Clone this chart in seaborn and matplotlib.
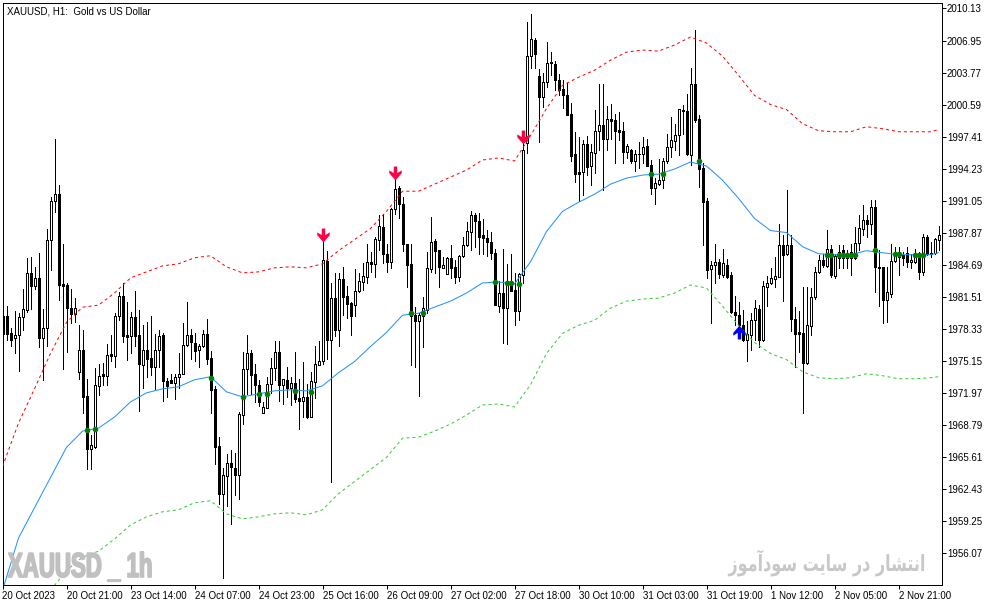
import numpy as np
import seaborn as sns
import matplotlib
matplotlib.use("Agg")
import matplotlib.pyplot as plt
from matplotlib.path import Path
from matplotlib.patheffects import AbstractPathEffect
from matplotlib.transforms import Affine2D

# H1 candles, one value per bar
opens = [
    1979.6, 1979.6, 1977.9, 1977.4, 1977.7, 1979.5, 1980.2, 1983.9, 1982.6, 1983.4,
    1977.4, 1978.4, 1987.2, 1991.0, 1991.7, 1982.8, 1982.7, 1980.4, 1979.8, 1974.1,
    1976.3, 1971.7, 1966.4, 1966.6, 1972.7, 1973.9, 1973.7, 1975.9, 1975.7, 1979.6,
    1981.6, 1977.7, 1977.6, 1979.5, 1977.7, 1974.8, 1976.3, 1975.5, 1974.6, 1976.3,
    1977.7, 1973.2, 1973.3, 1973.0, 1973.6, 1973.9, 1976.7, 1977.7, 1976.9, 1976.3,
    1976.6, 1977.8, 1975.5, 1972.4, 1966.7, 1962.0, 1963.8, 1965.0, 1964.5, 1963.9,
    1969.8, 1974.4, 1976.0, 1973.9, 1972.8, 1970.0, 1970.5, 1972.9, 1974.5, 1976.1,
    1972.8, 1973.3, 1972.5, 1973.0, 1971.5, 1971.2, 1971.6, 1969.6, 1973.1, 1974.8,
    1975.2, 1985.1, 1977.2, 1981.4, 1978.2, 1983.3, 1981.6, 1980.9, 1980.7, 1982.1,
    1983.0, 1983.5, 1985.0, 1984.8, 1987.2, 1988.5, 1985.8, 1985.0, 1990.2, 1992.3,
    1990.7, 1986.8, 1984.8, 1979.7, 1979.1, 1979.6, 1980.2, 1984.3, 1987.1, 1986.2,
    1984.4, 1983.8, 1985.4, 1984.5, 1983.5, 1985.6, 1986.7, 1988.0, 1989.6, 1989.0,
    1987.7, 1987.4, 1987.0, 1985.9, 1980.6, 1981.9, 1980.4, 1983.0, 1982.2, 1980.1,
    1983.7, 1996.8, 2005.4, 2007.0, 2003.4, 2001.3, 2002.8, 2004.8, 2004.6, 2003.0,
    2002.1, 2001.5, 1999.7, 1995.7, 1993.9, 1993.9, 1996.7, 1994.5, 1995.8, 1998.0,
    1998.6, 1997.2, 1999.2, 1999.1, 1998.1, 1998.0, 1995.9, 1996.1, 1995.0, 1995.7,
    1995.7, 1996.5, 1994.6, 1992.3, 1992.7, 1993.1, 1995.0, 1996.4, 1997.0, 1997.6,
    2000.1, 2000.0, 1995.6, 2002.6, 1999.2, 1994.3, 1991.0, 1984.3, 1984.7, 1985.0,
    1983.7, 1984.7, 1983.7, 1980.0, 1979.7, 1978.7, 1977.2, 1977.7, 1979.2, 1980.3,
    1977.2, 1982.5, 1982.9, 1983.3, 1983.5, 1986.7, 1985.8, 1986.7, 1979.3, 1978.0,
    1977.9, 1975.0, 1978.6, 1981.5, 1984.0, 1985.2, 1984.6, 1986.3, 1983.6, 1986.0,
    1986.2, 1985.4, 1986.0, 1985.4, 1986.9, 1988.3, 1989.1, 1988.7, 1990.4, 1984.5,
    1984.5, 1981.2, 1981.8, 1985.1, 1986.0, 1985.7, 1985.9, 1985.0, 1985.0, 1985.7,
    1984.0, 1987.5, 1985.9, 1985.9, 1987.2,
]
highs = [
    1980.2, 1980.6, 1978.4, 1980.1, 1979.9, 1982.3, 1985.4, 1985.5, 1984.5, 1985.9,
    1980.3, 1988.3, 1991.4, 1997.2, 1992.6, 1986.8, 1982.9, 1982.3, 1981.4, 1978.7,
    1978.2, 1973.4, 1967.8, 1974.5, 1974.9, 1975.0, 1976.8, 1977.7, 1979.9, 1982.0,
    1982.9, 1981.0, 1980.0, 1982.1, 1980.2, 1978.7, 1979.0, 1979.6, 1977.8, 1978.2,
    1977.9, 1973.5, 1973.9, 1973.9, 1976.0, 1978.9, 1981.0, 1978.3, 1977.9, 1976.8,
    1978.2, 1979.3, 1976.2, 1972.7, 1967.6, 1964.5, 1965.9, 1966.3, 1966.0, 1970.1,
    1976.1, 1977.7, 1976.3, 1974.9, 1973.3, 1971.1, 1973.6, 1975.5, 1977.1, 1977.1,
    1973.4, 1974.6, 1973.6, 1976.1, 1973.4, 1975.1, 1972.9, 1974.1, 1976.6, 1977.1,
    1987.2, 1986.1, 1982.9, 1983.9, 1983.9, 1984.5, 1982.6, 1981.0, 1984.3, 1983.9,
    1984.9, 1986.8, 1986.0, 1987.5, 1989.6, 1989.7, 1986.8, 1990.3, 1993.3, 1992.5,
    1991.4, 1986.8, 1986.8, 1980.5, 1979.9, 1981.5, 1986.0, 1989.4, 1987.3, 1986.2,
    1985.5, 1985.5, 1986.7, 1985.2, 1985.7, 1987.5, 1988.9, 1990.0, 1989.8, 1989.8,
    1989.2, 1988.2, 1988.0, 1986.3, 1983.1, 1986.3, 1984.8, 1985.8, 1983.9, 1983.9,
    1997.1, 2008.8, 2009.6, 2007.2, 2004.1, 2003.7, 2006.8, 2005.8, 2004.9, 2003.6,
    2003.0, 2002.7, 2000.8, 1997.9, 1997.4, 1997.1, 1997.5, 1996.7, 2000.1, 2002.6,
    2002.6, 2000.5, 2000.7, 1999.7, 1999.9, 1998.9, 1996.7, 1996.2, 1996.1, 1996.9,
    1997.4, 1997.2, 1995.1, 1993.3, 1995.2, 1995.3, 1997.7, 1999.4, 1998.7, 2000.2,
    2000.6, 2001.6, 2004.2, 2008.0, 1999.6, 1994.8, 1991.3, 1985.1, 1986.8, 1985.3,
    1986.3, 1985.3, 1984.0, 1981.6, 1981.0, 1980.2, 1979.1, 1979.9, 1981.2, 1980.7,
    1983.1, 1983.6, 1984.4, 1985.5, 1988.7, 1987.7, 1992.1, 1987.7, 1980.5, 1980.1,
    1982.5, 1982.5, 1982.4, 1984.5, 1985.7, 1985.8, 1988.2, 1986.7, 1985.8, 1986.7,
    1986.7, 1986.2, 1986.8, 1988.5, 1989.6, 1990.6, 1989.6, 1991.1, 1991.1, 1986.2,
    1984.5, 1984.5, 1986.8, 1986.5, 1986.5, 1986.0, 1986.5, 1985.8, 1986.3, 1986.0,
    1987.8, 1987.7, 1987.0, 1987.4, 1988.6,
]
lows = [
    1977.2, 1977.2, 1976.6, 1976.0, 1974.2, 1978.2, 1980.0, 1980.3, 1982.3, 1976.5,
    1973.3, 1976.6, 1984.2, 1989.9, 1981.2, 1974.4, 1976.1, 1978.9, 1979.0, 1973.4,
    1970.0, 1964.4, 1964.4, 1966.5, 1971.8, 1972.8, 1972.8, 1975.2, 1974.6, 1979.2,
    1977.0, 1975.3, 1976.0, 1976.6, 1970.2, 1972.5, 1973.6, 1973.8, 1972.4, 1974.6,
    1971.2, 1971.6, 1973.0, 1971.4, 1972.5, 1973.9, 1976.6, 1975.4, 1975.2, 1974.6,
    1976.5, 1974.9, 1970.0, 1964.9, 1961.0, 1953.6, 1960.8, 1959.0, 1961.9, 1961.5,
    1968.9, 1971.9, 1971.9, 1971.1, 1970.7, 1970.0, 1970.5, 1972.0, 1973.3, 1971.2,
    1970.9, 1971.6, 1970.8, 1971.1, 1968.4, 1969.6, 1969.5, 1969.6, 1971.5, 1974.9,
    1974.9, 1975.4, 1963.2, 1977.6, 1976.6, 1979.7, 1979.4, 1977.7, 1979.6, 1982.0,
    1982.2, 1982.9, 1984.0, 1983.5, 1986.2, 1984.9, 1984.0, 1984.4, 1989.7, 1989.3,
    1986.1, 1982.5, 1974.8, 1974.6, 1971.7, 1976.5, 1979.9, 1984.0, 1983.9, 1982.5,
    1984.4, 1983.8, 1983.4, 1982.9, 1983.1, 1985.5, 1986.6, 1986.2, 1986.5, 1985.8,
    1985.8, 1985.6, 1985.3, 1980.7, 1980.0, 1976.9, 1976.8, 1982.1, 1978.7, 1979.2,
    1982.9, 1995.8, 2004.2, 2004.2, 1996.9, 2000.4, 2002.3, 2003.5, 2002.0, 2001.5,
    2000.3, 1999.6, 1995.0, 1992.9, 1991.0, 1991.6, 1993.6, 1992.6, 1993.8, 1996.1,
    1992.1, 1996.1, 1997.2, 1994.8, 1997.1, 1994.8, 1995.3, 1994.8, 1994.0, 1994.3,
    1994.8, 1994.5, 1991.7, 1990.7, 1992.6, 1992.3, 1994.8, 1995.4, 1996.1, 1995.6,
    1997.7, 1995.6, 1994.6, 1998.9, 1992.4, 1986.7, 1983.4, 1978.9, 1982.9, 1983.4,
    1983.5, 1983.4, 1979.9, 1978.7, 1978.4, 1977.1, 1975.2, 1976.3, 1977.2, 1976.5,
    1977.1, 1980.6, 1982.8, 1982.5, 1983.5, 1981.1, 1985.7, 1978.1, 1974.6, 1976.1,
    1970.0, 1974.9, 1977.7, 1981.3, 1983.9, 1984.5, 1984.5, 1983.5, 1983.4, 1984.4,
    1984.4, 1984.4, 1983.7, 1985.3, 1986.2, 1987.7, 1987.5, 1987.8, 1982.0, 1980.6,
    1978.9, 1979.0, 1981.5, 1985.0, 1983.7, 1984.7, 1984.5, 1984.4, 1984.9, 1983.3,
    1983.7, 1985.7, 1985.5, 1985.8, 1986.2,
]
closes = [
    1977.8, 1977.8, 1977.2, 1977.7, 1979.5, 1980.3, 1983.9, 1982.6, 1983.4, 1977.4,
    1978.4, 1987.2, 1991.0, 1991.7, 1982.7, 1982.6, 1980.4, 1979.8, 1980.4, 1976.3,
    1971.6, 1966.4, 1966.8, 1972.8, 1973.7, 1973.7, 1975.8, 1975.7, 1979.6, 1981.6,
    1977.6, 1977.5, 1979.5, 1977.6, 1974.9, 1976.3, 1975.4, 1974.6, 1976.3, 1977.6,
    1973.2, 1972.7, 1973.0, 1973.6, 1973.9, 1976.7, 1977.7, 1977.0, 1976.2, 1976.6,
    1977.8, 1975.4, 1972.3, 1966.6, 1962.0, 1963.9, 1965.0, 1964.6, 1963.9, 1969.9,
    1974.4, 1976.0, 1973.8, 1972.8, 1971.1, 1970.6, 1972.9, 1974.5, 1976.1, 1972.8,
    1973.4, 1972.5, 1973.0, 1971.4, 1971.2, 1971.6, 1969.6, 1973.2, 1974.9, 1975.2,
    1985.2, 1977.2, 1981.4, 1978.2, 1983.3, 1981.5, 1980.8, 1979.6, 1982.1, 1983.1,
    1983.6, 1985.0, 1984.8, 1987.3, 1988.6, 1985.8, 1985.0, 1990.2, 1992.2, 1990.7,
    1986.8, 1984.7, 1979.6, 1979.1, 1979.7, 1980.4, 1984.4, 1987.0, 1986.1, 1984.5,
    1984.7, 1985.4, 1984.4, 1983.5, 1985.6, 1986.7, 1988.1, 1989.6, 1989.0, 1987.5,
    1987.4, 1987.0, 1985.9, 1980.7, 1981.9, 1980.4, 1983.0, 1982.1, 1980.1, 1983.8,
    1996.1, 2005.4, 2007.1, 2005.6, 2001.3, 2002.8, 2004.7, 2004.7, 2003.0, 2002.0,
    2001.5, 1999.6, 1995.5, 1993.7, 1993.7, 1996.7, 1994.4, 1995.9, 1998.0, 1998.6,
    1997.2, 1999.2, 1999.0, 1998.0, 1997.9, 1995.9, 1996.5, 1995.0, 1995.7, 1995.7,
    1996.4, 1994.5, 1992.3, 1992.8, 1993.1, 1995.0, 1996.4, 1997.1, 1997.6, 2000.2,
    2000.0, 1995.7, 2002.6, 1999.1, 1994.2, 1990.9, 1984.2, 1984.7, 1985.0, 1983.8,
    1984.9, 1983.5, 1980.0, 1979.7, 1978.7, 1977.2, 1977.8, 1979.2, 1980.4, 1977.2,
    1982.6, 1982.9, 1983.4, 1983.6, 1986.7, 1985.7, 1986.7, 1979.3, 1977.8, 1977.8,
    1975.0, 1978.7, 1981.5, 1984.0, 1985.2, 1984.7, 1986.3, 1983.7, 1985.6, 1985.4,
    1985.4, 1985.8, 1985.4, 1986.9, 1988.4, 1989.1, 1988.7, 1990.4, 1984.5, 1984.4,
    1981.2, 1982.0, 1985.1, 1986.0, 1985.5, 1985.4, 1985.0, 1985.2, 1985.8, 1984.0,
    1987.5, 1985.8, 1985.8, 1987.3, 1987.7,
]

# indicator lines, read every 4th bar and at the last bar
line_bars = list(range(0, 233, 4)) + [234]
middle_band = [
    1952.4, 1957.6, 1960.6, 1963.6, 1966.6, 1968.2, 1968.5, 1969.6, 1971.1, 1972.0,
    1972.4, 1972.6, 1973.3, 1973.6, 1972.1, 1971.6, 1971.9, 1972.2, 1972.3, 1972.2,
    1972.7, 1974.0, 1975.1, 1976.6, 1978.0, 1979.7, 1979.9, 1980.5, 1981.1, 1981.9,
    1982.9, 1983.0, 1982.8, 1985.0, 1988.0, 1990.0, 1990.9, 1991.7, 1992.7, 1993.3,
    1993.6, 1993.7, 1994.2, 1994.9, 1994.5, 1993.1, 1991.3, 1989.3, 1988.1, 1987.9,
    1986.5, 1985.8, 1985.7, 1985.7, 1986.1, 1985.9, 1985.7, 1985.7, 1985.7, 1985.9,
]
upper_band = [
    1964.7, 1969.0, 1972.4, 1975.9, 1979.0, 1980.5, 1980.7, 1981.9, 1983.4, 1984.0,
    1984.6, 1984.8, 1985.4, 1985.6, 1984.5, 1983.9, 1984.0, 1984.4, 1984.5, 1984.4,
    1984.8, 1986.1, 1987.2, 1988.3, 1990.0, 1992.0, 1992.0, 1992.7, 1993.4, 1994.1,
    1995.1, 1995.3, 1995.0, 1997.5, 2000.2, 2002.5, 2003.3, 2004.0, 2005.0, 2005.8,
    2006.0, 2005.9, 2006.5, 2007.3, 2006.7, 2005.4, 2003.5, 2001.5, 2000.6, 2000.1,
    1998.7, 1998.0, 1997.9, 1997.9, 1998.4, 1998.2, 1997.9, 1997.9, 1997.9, 1998.1,
]
# the lower band only enters the window at bar 12
lower_bars = line_bars[3:]
lower_band = [
    1952.4, 1954.4, 1955.7, 1956.3, 1957.5, 1958.9, 1959.7, 1960.2, 1960.4, 1961.1,
    1961.3, 1960.0, 1959.5, 1959.7, 1960.0, 1960.1, 1959.9, 1960.4, 1962.0, 1963.2,
    1964.4, 1965.6, 1967.5, 1967.6, 1968.2, 1968.9, 1969.8, 1970.8, 1970.9, 1970.6,
    1972.8, 1975.9, 1977.9, 1978.7, 1979.2, 1980.4, 1981.1, 1981.3, 1981.4, 1981.9,
    1982.7, 1982.4, 1980.6, 1978.7, 1977.0, 1975.9, 1975.3, 1974.1, 1973.5, 1973.4,
    1973.5, 1973.9, 1973.7, 1973.4, 1973.4, 1973.5, 1973.6,
]

# green dots on the middle line
dot_bars = [21, 23, 52, 60, 64, 66, 73, 77, 102, 105, 123, 126, 127, 129, 162, 165, 174,
            206, 207, 209, 210, 211, 212, 213, 218, 223, 224, 228, 229, 230]
dot_prices = [1968.3, 1968.4, 1973.5, 1971.6, 1971.9, 1971.9, 1972.2, 1972.1, 1979.9, 1979.9,
              1983.0, 1982.9, 1982.9, 1982.8, 1993.7, 1993.7, 1995.0,
              1985.7, 1985.7, 1985.7, 1985.7, 1985.7, 1985.7, 1985.7, 1986.2,
              1985.8, 1985.8, 1985.7, 1985.7, 1985.7]

# sell and buy arrows
sell_bars = [80, 98, 130]
sell_prices = [1987.7, 1993.8, 1997.4]
buy_bars = [184]
buy_prices = [1978.0]

tick_bars = list(range(0, 225, 16))
x_labels = ["20 Oct 2023", "20 Oct 21:00", "23 Oct 14:00", "24 Oct 07:00", "24 Oct 23:00",
            "25 Oct 16:00", "26 Oct 09:00", "27 Oct 02:00", "27 Oct 18:00", "30 Oct 10:00",
            "31 Oct 03:00", "31 Oct 19:00", "1 Nov 12:00", "2 Nov 05:00", "2 Nov 21:00"]
y_ticks = [2010.13, 2006.95, 2003.77, 2000.59, 1997.41, 1994.23, 1991.05, 1987.87, 1984.69,
           1981.51, 1978.33, 1975.15, 1971.97, 1968.79, 1965.61, 1962.43, 1959.25, 1956.07]


class Squeeze(AbstractPathEffect):
    """Narrows a text horizontally around one pixel column and thickens its strokes."""

    def __init__(self, x0, scale, stroke=0.0):
        super().__init__()
        self.x0 = x0
        self.scale = scale
        self.stroke = stroke

    def draw_path(self, renderer, gc, tpath, affine, rgbFace):
        squeezed = affine + Affine2D().translate(-self.x0, 0).scale(self.scale, 1).translate(self.x0, 0)
        gc0 = renderer.new_gc()
        gc0.copy_properties(gc)
        gc0.set_linewidth(self.stroke)
        renderer.draw_path(gc0, tpath, squeezed, rgbFace)
        gc0.restore()


sns.set_theme(style="white")
plt.rcParams["font.family"] = ["Liberation Sans", "DejaVu Sans"]

W, H = 994, 605
PX = 0.72  # one pixel in points at dpi 100
LABEL_SIZE = 7.0
fig = plt.figure(figsize=(W / 100, H / 100), dpi=100, facecolor="white")
ax = fig.add_axes([2.5 / W, (H - 584.5) / H, 939 / W, 582 / H])

bars = np.arange(len(opens))
o, h, l, c = map(np.array, (opens, highs, lows, closes))

# watermarks sit behind everything
mark = fig.text(8 / W, 1 - 577 / H, "XAUUSD _ 1h", color="#c0c0c0", fontsize=25, fontweight="bold",
                family="Liberation Sans", ha="left", va="baseline", zorder=0)
mark.set_path_effects([Squeeze(8, 0.64, stroke=1.2)])
# Persian text in shaped forms, reversed for left to right drawing
shaped = ("\ufe8d\ufee7\ufe98\ufeb8\ufe8e\ufead \ufea9\ufead \ufeb3\ufe8e\ufbfe\ufe96 "
          "\ufeb3\ufeee\ufea9\ufe81\ufee3\ufeee\ufeaf")
persian = fig.text(926 / W, 1 - 571 / H, shaped[::-1], color="#c8c8c8", fontsize=16, fontweight="bold",
                   family="DejaVu Sans", ha="right", va="baseline", zorder=0)
persian.set_path_effects([Squeeze(926, 0.72)])
ax.patch.set_alpha(0)

# candles
ax.vlines(bars, l, h, color="black", lw=PX, antialiased=False, zorder=2)
fills = ["white" if cl >= op else "black" for op, cl in zip(o, c)]
ax.bar(bars, np.abs(c - o), bottom=np.minimum(o, c), width=0.5, color=fills, edgecolor="black",
       linewidth=PX, antialiased=False, zorder=3)

# bands
sns.lineplot(x=line_bars, y=upper_band, color="#ff0000", lw=PX, linestyle=(0, (3, 3)), ax=ax, zorder=4)
sns.lineplot(x=lower_bars, y=lower_band, color="#32cd32", lw=PX, linestyle=(0, (3, 3)), ax=ax, zorder=4)
sns.lineplot(x=line_bars, y=middle_band, color="#1e90ff", lw=PX, ax=ax, zorder=4)
sns.scatterplot(x=dot_bars, y=dot_prices, color="#008000", s=16, linewidth=0, ax=ax, zorder=5)

# arrows
down_arrow = Path([(-0.25, 1), (0.25, 1), (0.25, 0.05), (0.9, 0.45), (0.9, 0.05), (0, -1),
                   (-0.9, 0.05), (-0.9, 0.45), (-0.25, 0.05), (-0.25, 1)], closed=True)
up_arrow = Path(down_arrow.vertices * [1, -1], closed=True)
sns.scatterplot(x=sell_bars, y=sell_prices, color="#ff0040", marker=down_arrow, s=100, linewidth=0,
                ax=ax, zorder=6)
sns.scatterplot(x=buy_bars, y=buy_prices, color="#0000ff", marker=up_arrow, s=100, linewidth=0,
                ax=ax, zorder=6)

ax.set_xlim(0, 234.75)
ax.set_ylim(1952.99, 2010.72)
ax.set_xticks(tick_bars, x_labels, ha="left")
ax.yaxis.tick_right()
ax.set_yticks(y_ticks, [f"{v:.2f}" for v in y_ticks])
ax.tick_params(axis="both", length=3, width=PX, color="black", labelsize=LABEL_SIZE, labelcolor="black",
               bottom=True, right=True, left=False)
ax.tick_params(axis="x", pad=1.5)
ax.tick_params(axis="y", pad=1)
for spine in ax.spines.values():
    spine.set_visible(True)
    spine.set_color("black")
    spine.set_linewidth(PX)

ax.text(7 / W, 1 - 14 / H, "XAUUSD, H1:  Gold vs US Dollar", color="black", fontsize=LABEL_SIZE,
        transform=fig.transFigure, ha="left", va="baseline", zorder=7)

fig.savefig("out.png", dpi=100)
